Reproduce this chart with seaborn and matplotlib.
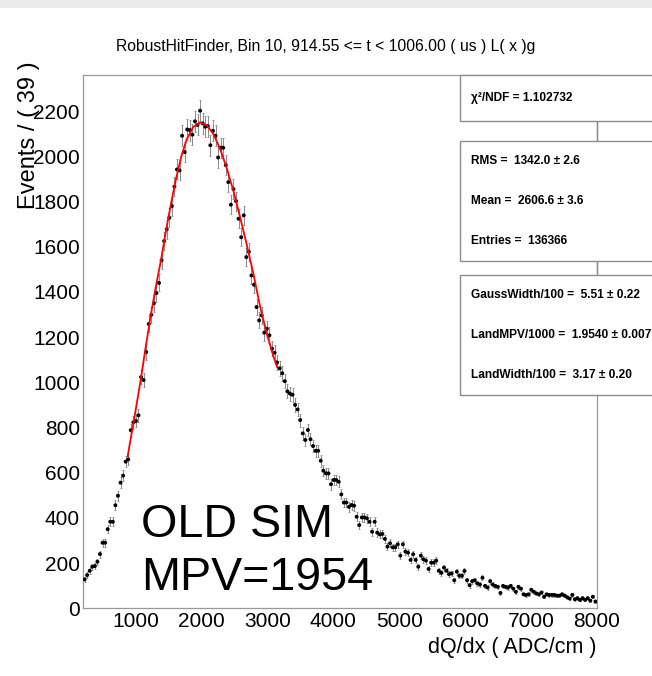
import numpy as np
import pandas as pd
import matplotlib
matplotlib.use("Agg")
import matplotlib.pyplot as plt
from matplotlib.patches import Rectangle
from matplotlib.lines import Line2D
from matplotlib.ticker import MultipleLocator
import seaborn as sns

# ---------------- data ----------------
x_min, x_max, bin_width = 200.0, 8000.0, 39.0
counts = [
    128, 147, 166, 184, 187, 206, 240, 290, 290, 350, 383, 383, 456, 498, 556, 587, 649, 659, 788, 823,
    829, 854, 1023, 1010, 1134, 1258, 1299, 1350, 1395, 1440, 1540, 1625, 1677, 1728, 1780, 1866, 1942, 1938, 2091, 2019,
    2119, 2116, 2096, 2155, 2139, 2202, 2146, 2131, 2134, 2049, 2113, 2091, 1995, 2038, 2038, 1961, 1886, 1786, 1855, 1802,
    1724, 1642, 1739, 1554, 1578, 1473, 1432, 1333, 1274, 1296, 1220, 1237, 1208, 1149, 1131, 1088, 1062, 1040, 1005, 960,
    950, 945, 900, 880, 833, 774, 745, 789, 748, 718, 697, 697, 653, 609, 597, 597, 549, 568, 568, 560,
    504, 468, 468, 449, 457, 454, 405, 368, 402, 402, 398, 383, 339, 383, 335, 327, 329, 307, 273, 288,
    270, 270, 283, 233, 283, 251, 246, 214, 239, 214, 184, 233, 217, 211, 174, 202, 202, 211, 166, 157,
    180, 166, 151, 154, 124, 162, 144, 144, 165, 124, 102, 120, 124, 110, 105, 135, 99, 92, 120, 105,
    99, 95, 68, 99, 95, 92, 99, 87, 73, 95, 87, 62, 59, 62, 82, 73, 66, 62, 70, 51,
    62, 59, 59, 59, 56, 56, 62, 56, 49, 43, 59, 40, 45, 37, 45, 37, 45, 34, 51, 30,
]
# red fit curve (L(x)g)
fit_x = [874, 950, 1000, 1077, 1150, 1233, 1300, 1380, 1456, 1532, 1612, 1694, 1770, 1870,
         1972, 2074, 2174, 2276, 2377, 2478, 2579, 2681, 2786, 2883, 2985, 3085, 3146]
fit_y = [673, 800, 885, 1020, 1160, 1310, 1420, 1540, 1670, 1790, 1905, 2005, 2075, 2130,
         2150, 2138, 2100, 2035, 1950, 1850, 1735, 1612, 1478, 1340, 1218, 1118, 1066]

title = "RobustHitFinder, Bin 10, 914.55 <= t < 1006.00 ( us ) L( x )g"
x_title = "dQ/dx ( ADC/cm )"
y_title = "Events / ( 39 )"
x_ticks = [1000, 2000, 3000, 4000, 5000, 6000, 7000, 8000]
y_ticks = [0, 200, 400, 600, 800, 1000, 1200, 1400, 1600, 1800, 2000, 2200]
box1 = ["χ²/NDF = 1.102732"]
box2 = ["RMS =  1342.0 ± 2.6", "Mean =  2606.6 ± 3.6", "Entries =  136366"]
box3 = ["GaussWidth/100 =  5.51 ± 0.22", "LandMPV/1000 =  1.9540 ± 0.007", "LandWidth/100 =  3.17 ± 0.20"]
big_text = ["OLD SIM", "MPV=1954"]

counts = np.array(counts, dtype=float)
n_bins = len(counts)
centers = x_min + bin_width * (np.arange(n_bins) + 0.5)
errors = np.sqrt(counts)
df = pd.DataFrame({"x": centers, "y": counts})
fit_df = pd.DataFrame({"x": fit_x, "y": fit_y})

# ---------------- figure ----------------
sns.set_style("white")
plt.rcParams["font.family"] = ["Liberation Sans", "DejaVu Sans"]
plt.rcParams["text.color"] = "black"

W, H = 652, 676
fig = plt.figure(figsize=(W / 100, H / 100), dpi=100)
fig.patch.set_facecolor("white")

def fx(px):
    return px / W

def fy(py):
    return 1 - py / H

ax_l, ax_r, ax_t, ax_b = 83.3, 596.7, 75.0, 608.3
ax = fig.add_axes([fx(ax_l), fy(ax_b), (ax_r - ax_l) / W, (ax_b - ax_t) / H])
ax.set_facecolor("white")

ax.errorbar(centers, counts, yerr=errors, fmt="none", ecolor="#8a8a8a",
            elinewidth=0.7, capsize=1.0, capthick=0.6, zorder=2)
sns.scatterplot(data=df, x="x", y="y", ax=ax, color="black", s=8,
                edgecolor="none", linewidth=0, zorder=3, legend=False)
sns.lineplot(data=fit_df, x="x", y="y", ax=ax, color="red", linewidth=1.3,
             estimator=None, sort=False, zorder=4, legend=False)

ax.set_xlim(x_min, x_max)
ax.set_ylim(0, 2360)
ax.set_xlabel("")
ax.set_ylabel("")
ax.set_xticks(x_ticks)
ax.set_yticks(y_ticks)
ax.xaxis.set_minor_locator(MultipleLocator(200))
ax.yaxis.set_minor_locator(MultipleLocator(50))
axis_gray = "#999999"
for s in ax.spines.values():
    s.set_color(axis_gray)
    s.set_linewidth(0.9)
ax.tick_params(axis="both", which="both", direction="in", color=axis_gray,
               labelsize=15, labelcolor="black", top=False, right=False,
               width=0.9)
ax.tick_params(axis="y", which="major", length=12, pad=2.4)
ax.tick_params(axis="y", which="minor", length=5.8)
ax.tick_params(axis="x", which="major", length=9.4, pad=3.0)
ax.tick_params(axis="x", which="minor", length=4.7)

# titles
fig.text(fx(326), fy(47), title, ha="center", va="center", fontsize=11.3, color="black")
fig.text(fx(ax_r), fy(647), x_title, ha="right", va="center", fontsize=15.5, color="black")
fig.text(fx(29), fy(61), y_title, ha="center", va="top", rotation=90, fontsize=17, color="black")

# big annotation
fig.text(fx(141), fy(537), big_text[0], ha="left", va="baseline", fontsize=33.6, color="black")
fig.text(fx(141), fy(590), big_text[1], ha="left", va="baseline", fontsize=33.6, color="black")

# top grey band
fig.patches.append(Rectangle((0, fy(7.5)), 1, 7.5 / H, transform=fig.transFigure,
                             facecolor="#ececec", edgecolor="none", zorder=0))

# stat boxes
box_gray = "#8c8c8c"
box_left = 460.0

def draw_box(top, bottom, lines, ys):
    fig.patches.append(Rectangle((fx(box_left), fy(bottom)), (W + 20 - box_left) / W,
                                 (bottom - top) / H, transform=fig.transFigure,
                                 facecolor="white", edgecolor=box_gray, linewidth=1.0, zorder=5))
    for txt, yy in zip(lines, ys):
        fig.text(fx(471), fy(yy), txt, ha="left", va="center", fontsize=8.6,
                 fontweight="bold", color="black", zorder=6)

def connector(y0, y1):
    fig.lines.append(Line2D([fx(ax_r), fx(ax_r)], [fy(y0), fy(y1)], transform=fig.transFigure,
                            color=box_gray, linewidth=1.0, zorder=5))

draw_box(75, 121, box1, [98])
connector(121, 141)
draw_box(141, 261, box2, [161, 201, 241])
connector(261, 275)
draw_box(275, 395, box3, [295, 335, 375])

fig.savefig("out.png", dpi=100)
